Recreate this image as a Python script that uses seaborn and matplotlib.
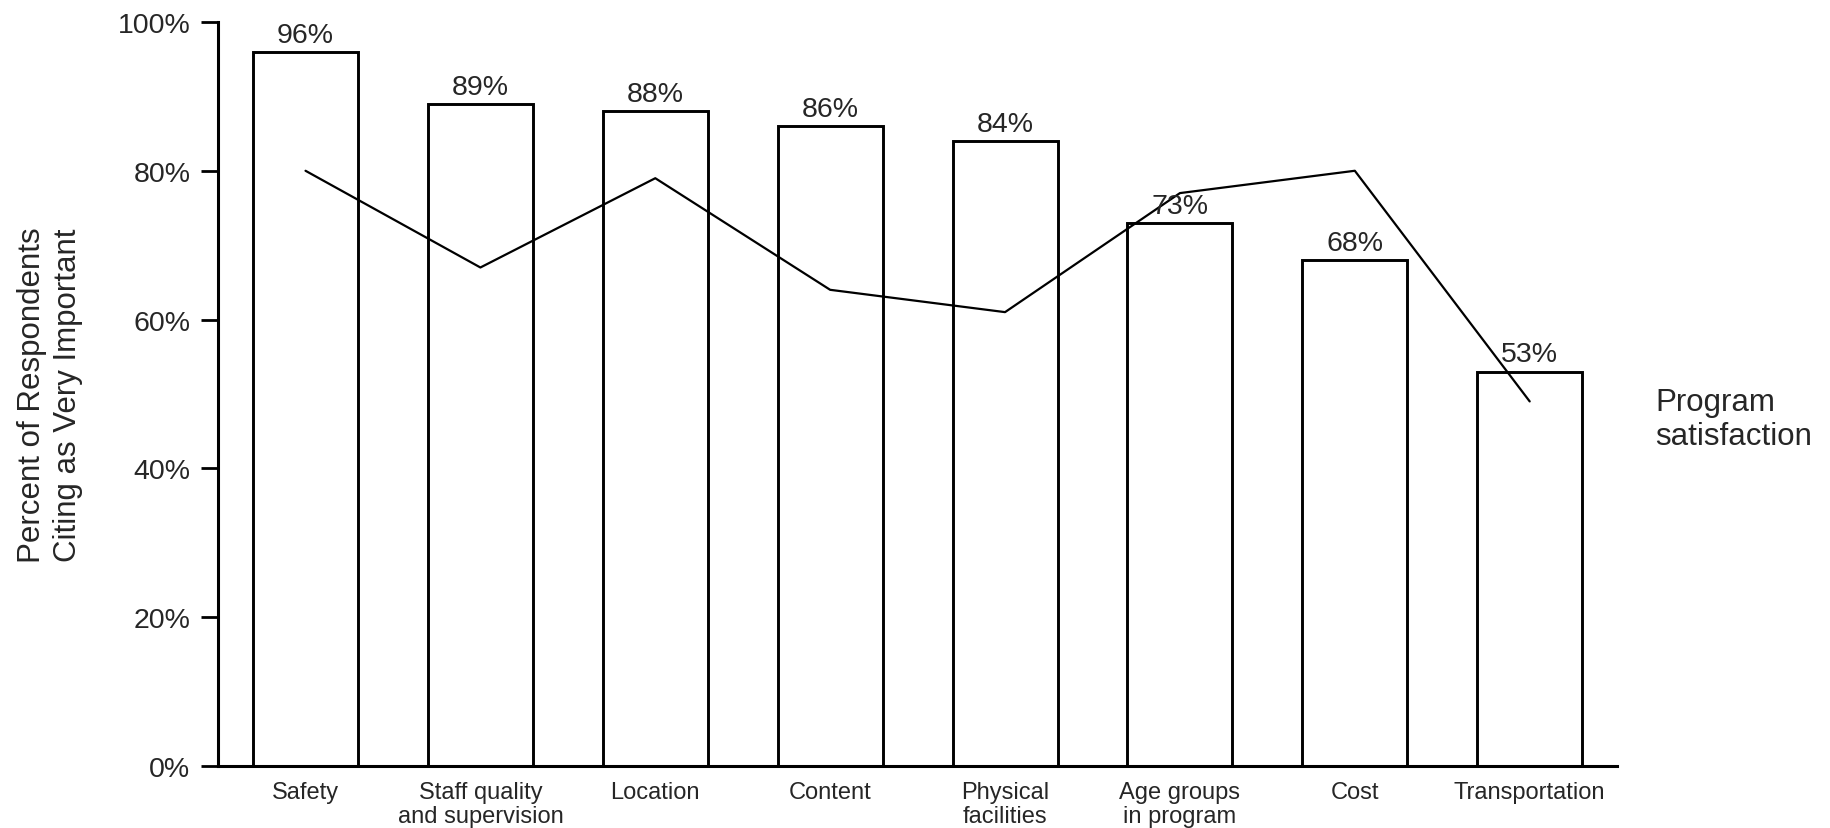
import matplotlib
matplotlib.use("Agg")
import matplotlib.pyplot as plt
import seaborn as sns
import pandas as pd

categories = ["Safety", "Staff quality\nand supervision", "Location", "Content",
              "Physical\nfacilities", "Age groups\nin program", "Cost", "Transportation"]
importance = [96, 89, 88, 86, 84, 73, 68, 53]
satisfaction = [80, 67, 79, 64, 61, 77, 80, 49]
yticks = [0, 20, 40, 60, 80, 100]
ytick_labels = ["0%", "20%", "40%", "60%", "80%", "100%"]

sns.set_theme(style="white")
plt.rcParams["font.family"] = ["Liberation Sans", "DejaVu Sans"]

df = pd.DataFrame({"cat": categories, "imp": importance, "sat": satisfaction})

fig = plt.figure(figsize=(18.31, 8.29), dpi=100)
ax = fig.add_axes([0.1191, 0.0748, 0.7641, 0.8975])

sns.barplot(data=df, x="cat", y="imp", order=categories, color="white",
            edgecolor="black", linewidth=2.1, width=0.6, ax=ax, saturation=1)
ax.bar_label(ax.containers[0], labels=[f"{v}%" for v in importance],
             fontsize=20.5, padding=3)
sns.lineplot(data=df, x="cat", y="sat", sort=False, color="black",
             linewidth=1.6, ax=ax)

ax.set_ylim(0, 100)
ax.set_xlim(-0.5, 7.5)
ax.set_yticks(yticks)
ax.set_yticklabels(ytick_labels, fontsize=20.5)
ax.tick_params(axis="y", length=12, width=2, pad=8, left=True, color="black")
ax.tick_params(axis="x", length=0, pad=11, labelsize=17)
for lbl in ax.get_xticklabels():
    lbl.set_linespacing(1.12)
ax.set_xlabel("")
ax.set_ylabel("Percent of Respondents\nCiting as Very Important", fontsize=22.5,
              linespacing=1.26)
ax.yaxis.label.set(ha="center", va="center", rotation_mode="default")
ax.yaxis.set_label_coords(50 / 1831, 0.0748 + 0.8975 / 2, transform=fig.transFigure)
for s in ["top", "right"]:
    ax.spines[s].set_visible(False)
for s in ["left", "bottom"]:
    ax.spines[s].set_color("black")
    ax.spines[s].set_linewidth(2.2)

fig.text(0.9039, 0.4934, "Program\nsatisfaction", fontsize=22.5, ha="left",
         va="center", linespacing=1.14)

fig.savefig("out.png", dpi=100)
